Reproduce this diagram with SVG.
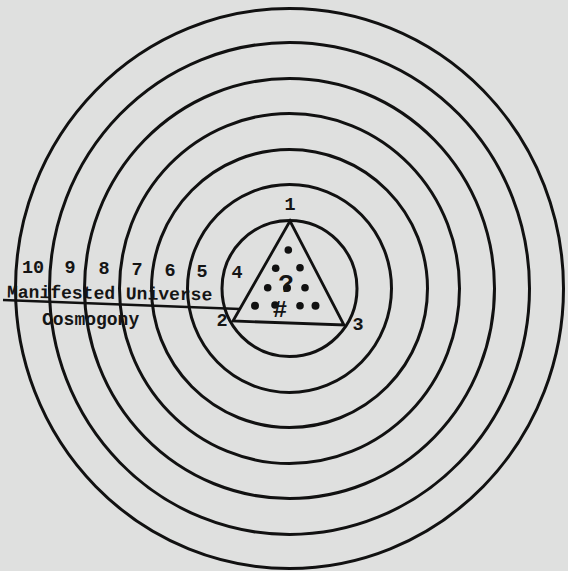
<svg xmlns="http://www.w3.org/2000/svg" width="568" height="571" viewBox="0 0 568 571">
  <style>
    .ring { fill: none; stroke: #111; stroke-width: 3; }
    .tri { fill: none; stroke: #111; stroke-width: 2.8; stroke-linejoin: miter; }
    .ln { fill: none; stroke: #111; stroke-width: 2.4; }
    .dot { fill: #111; }
    .t { font-family: "Liberation Mono", "DejaVu Sans Mono", monospace; font-size: 18.5px; font-weight: bold; fill: #151515; }
    .cap { font-size: 18px; }
    .n { text-anchor: middle; }
  </style>
  <rect width="568" height="571" fill="#dfe0df"/>
  <g id="rings">
    <ellipse class="ring" cx="289.5" cy="288.5" rx="67.5" ry="68"/>
    <ellipse class="ring" cx="289.5" cy="288.5" rx="102" ry="104"/>
    <ellipse class="ring" cx="289.5" cy="288.5" rx="138" ry="139"/>
    <ellipse class="ring" cx="289.5" cy="288.5" rx="170" ry="175"/>
    <ellipse class="ring" cx="289.5" cy="288.5" rx="205" ry="210"/>
    <ellipse class="ring" cx="289.5" cy="288.5" rx="240" ry="246"/>
    <ellipse class="ring" cx="289.5" cy="288.5" rx="274" ry="280"/>
  </g>
  <g id="triangle">
    <polygon class="tri" points="290,221 233,321 344,325"/>
    <circle class="dot" cx="288.3" cy="250" r="3.8"/>
    <circle class="dot" cx="275.7" cy="268.3" r="3.8"/>
    <circle class="dot" cx="300" cy="267.7" r="3.8"/>
    <circle class="dot" cx="267.7" cy="287.7" r="3.8"/>
    <circle class="dot" cx="287" cy="288" r="4"/>
    <circle class="dot" cx="305" cy="287.7" r="3.8"/>
    <circle class="dot" cx="255" cy="305.7" r="4"/>
    <circle class="dot" cx="275" cy="305" r="3.8"/>
    <circle class="dot" cx="300" cy="305.7" r="3.8"/>
    <circle class="dot" cx="315.5" cy="305.7" r="4"/>
    <text class="t n" x="286" y="292" style="font-size:26px">?</text>
    <text class="t n" x="280" y="317" style="font-size:24px">#</text>
  </g>
  <g id="vertex-labels">
    <text class="t n" x="290" y="210">1</text>
    <text class="t n" x="222" y="326">2</text>
    <text class="t n" x="358" y="330">3</text>
  </g>
  <g id="ring-labels">
    <text class="t n" x="33" y="273">10</text>
    <text class="t n" x="70" y="273">9</text>
    <text class="t n" x="104" y="274">8</text>
    <text class="t n" x="137" y="275">7</text>
    <text class="t n" x="170" y="276">6</text>
    <text class="t n" x="202" y="277">5</text>
    <text class="t n" x="237" y="278">4</text>
  </g>
  <g id="connectors">
    <line class="ln" x1="3" y1="300" x2="240" y2="309"/>
  </g>
  <g id="captions">
    <text class="t cap" x="7" y="297.5" transform="rotate(0.8 7 297.5)">Manifested Universe</text>
    <text class="t cap" x="42" y="325">Cosmogony</text>
  </g>
</svg>
